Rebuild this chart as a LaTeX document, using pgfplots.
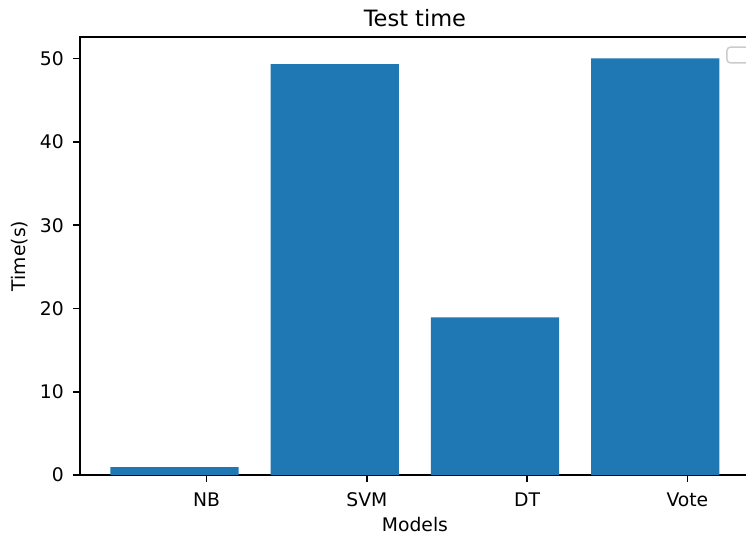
\documentclass[border=0pt]{standalone}
\usepackage{fontspec}
\setmainfont{DejaVu Sans}
\usepackage{pgfplots}
\pgfplotsset{compat=1.18}
\definecolor{mplblue}{HTML}{1F77B4}
\begin{document}
\begin{tikzpicture}
\path[use as bounding box] (0,0) rectangle (397.9pt,287.5pt);
\fill[white] (0,0) rectangle (397.9pt,287.5pt);
\clip (0,0) rectangle (397.9pt,287.5pt);
\begin{axis}[
  name=ax,
  at={(42.67pt,34.13pt)}, anchor=south west,
  scale only axis, width=357.3pt, height=233.6pt,
  xmin=-0.59, xmax=3.59, ymin=0, ymax=52.6,
  xtick={0.2,1.2,2.2,3.2}, xticklabels={NB,SVM,DT,Vote},
  ytick={0,10,20,30,40,50},
  tick pos=left, tick align=outside,
  major tick length=3.5pt,
  tick style={line width=0.8pt, black},
  axis line style={line width=0.8pt},
  /pgf/number format/assume math mode=true,
  ticklabel style={font=\fontsize{10}{12}\selectfont},
  xticklabel style={yshift=-2.5pt},
  yticklabel style={xshift=-1.6pt},
  xlabel={Models}, ylabel={Time(s)},
  label style={font=\fontsize{10}{12}\selectfont},
  xlabel style={at={(axis description cs:0.5,-0.114)}, anchor=center},
  ylabel style={at={(axis description cs:-0.0896,0.5)}, anchor=center},
]
\addplot[ybar, bar width=0.8, fill=mplblue, draw=none] coordinates {(0,0.96) (1,49.36) (2,18.95) (3,50.05)};
\end{axis}
\node[anchor=base, inner sep=0pt, yshift=5.87pt, font=\fontsize{12}{14.4}\selectfont] at (ax.north) {Test time};
\draw[gray!40, line width=0.8pt, rounded corners=2pt] (387.7pt,253.9pt) rectangle (410pt,262.4pt);
\end{tikzpicture}
\end{document}
